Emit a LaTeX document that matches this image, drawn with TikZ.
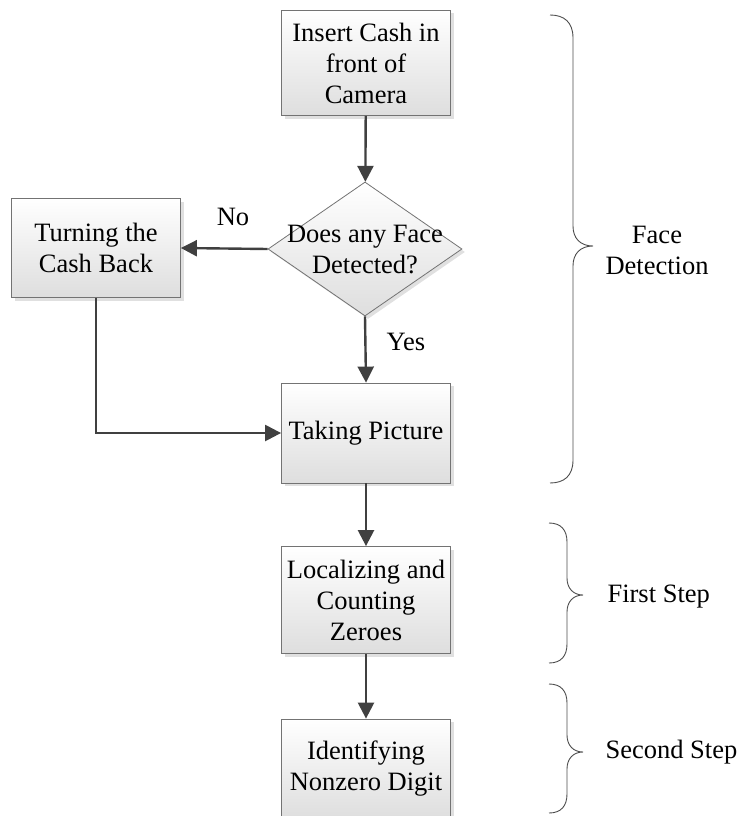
\documentclass[tikz,border=0pt]{standalone}
\usepackage{fontspec}
\setmainfont{Liberation Serif}
\usetikzlibrary{arrows.meta,shapes.geometric,shadows}

\begin{document}
\begin{tikzpicture}[
  x=1pt, y=-1pt,
  every node/.style={font=\fontsize{26.5}{31}\selectfont},
  procbox/.style={draw=black!55, line width=0.8pt, top color=white, bottom color=black!13, drop shadow={shadow xshift=3pt, shadow yshift=-3pt, opacity=0.3, fill=black!40}, minimum width=169pt, minimum height=#1, align=center, inner sep=2pt},
  procbox/.default=105pt,
  decision/.style={diamond, draw=black!55, line width=0.8pt, top color=white, bottom color=black!13, drop shadow={shadow xshift=3pt, shadow yshift=-3pt, opacity=0.3, fill=black!40}, minimum width=194pt, minimum height=134pt, inner sep=0pt},
  flow/.style={-{Triangle[length=16pt, width=16pt]}, line width=2.4pt, draw=black!75},
  bracepen/.style={draw=black!70, line width=0.9pt}
]
\useasboundingbox (0,0) rectangle (738,816);

\node[procbox] (insert) at (366,63) {Insert Cash in\\front of\\Camera};
\node[decision] (detect) at (365,249) {};
\node[align=center] (detecttxt) at (365,250) {Does any Face\\Detected?};
\node[procbox=99pt] (turn) at (96,248) {Turning the\\Cash Back};
\node[procbox=100pt] (picture) at (366,433) {Taking Picture};
\node[procbox=107pt] (zeros) at (366,600) {Localizing and\\Counting\\Zeroes};
\node[procbox=100pt] (digit) at (366,769) {Identifying\\Nonzero Digit};

\draw[flow] (insert) -- (detect);
\draw[flow] (detect.west) -- (turn.east);
\draw[flow] (detect.south) -- (picture.north);
\draw[flow] (turn.south) |- (picture.west);
\draw[flow] (picture) -- (zeros);
\draw[flow] (zeros) -- (digit);
\node (nolbl) at (233,217) {No};
\node (yeslbl) at (406,342) {Yes};

% braces on the right
\draw[bracepen] (550,15) .. controls (564,15) and (573,22) .. (573,38) -- (573,226)
  .. controls (573,238) and (580,246) .. (593,246) .. controls (580,246) and (573,254) .. (573,266)
  -- (573,460) .. controls (573,476) and (564,483) .. (550,483);
\draw[bracepen] (549,523) .. controls (561,523) and (567,530) .. (567,542) -- (567,578)
  .. controls (567,588) and (573,595) .. (583,595) .. controls (573,595) and (567,602) .. (567,612)
  -- (567,644) .. controls (567,656) and (561,663) .. (549,663);
\draw[bracepen] (549,684) .. controls (561,684) and (567,691) .. (567,703) -- (567,735)
  .. controls (567,745) and (573,752) .. (583,752) .. controls (573,752) and (567,759) .. (567,769)
  -- (567,794) .. controls (567,806) and (561,813) .. (549,813);
\node[align=center] (facelbl) at (657,250) {Face\\Detection};
\node[anchor=west] (firstlbl) at (604,597) {First Step};
\node[anchor=west] (secondlbl) at (602,752) {Second Step};
\end{tikzpicture}
\end{document}
